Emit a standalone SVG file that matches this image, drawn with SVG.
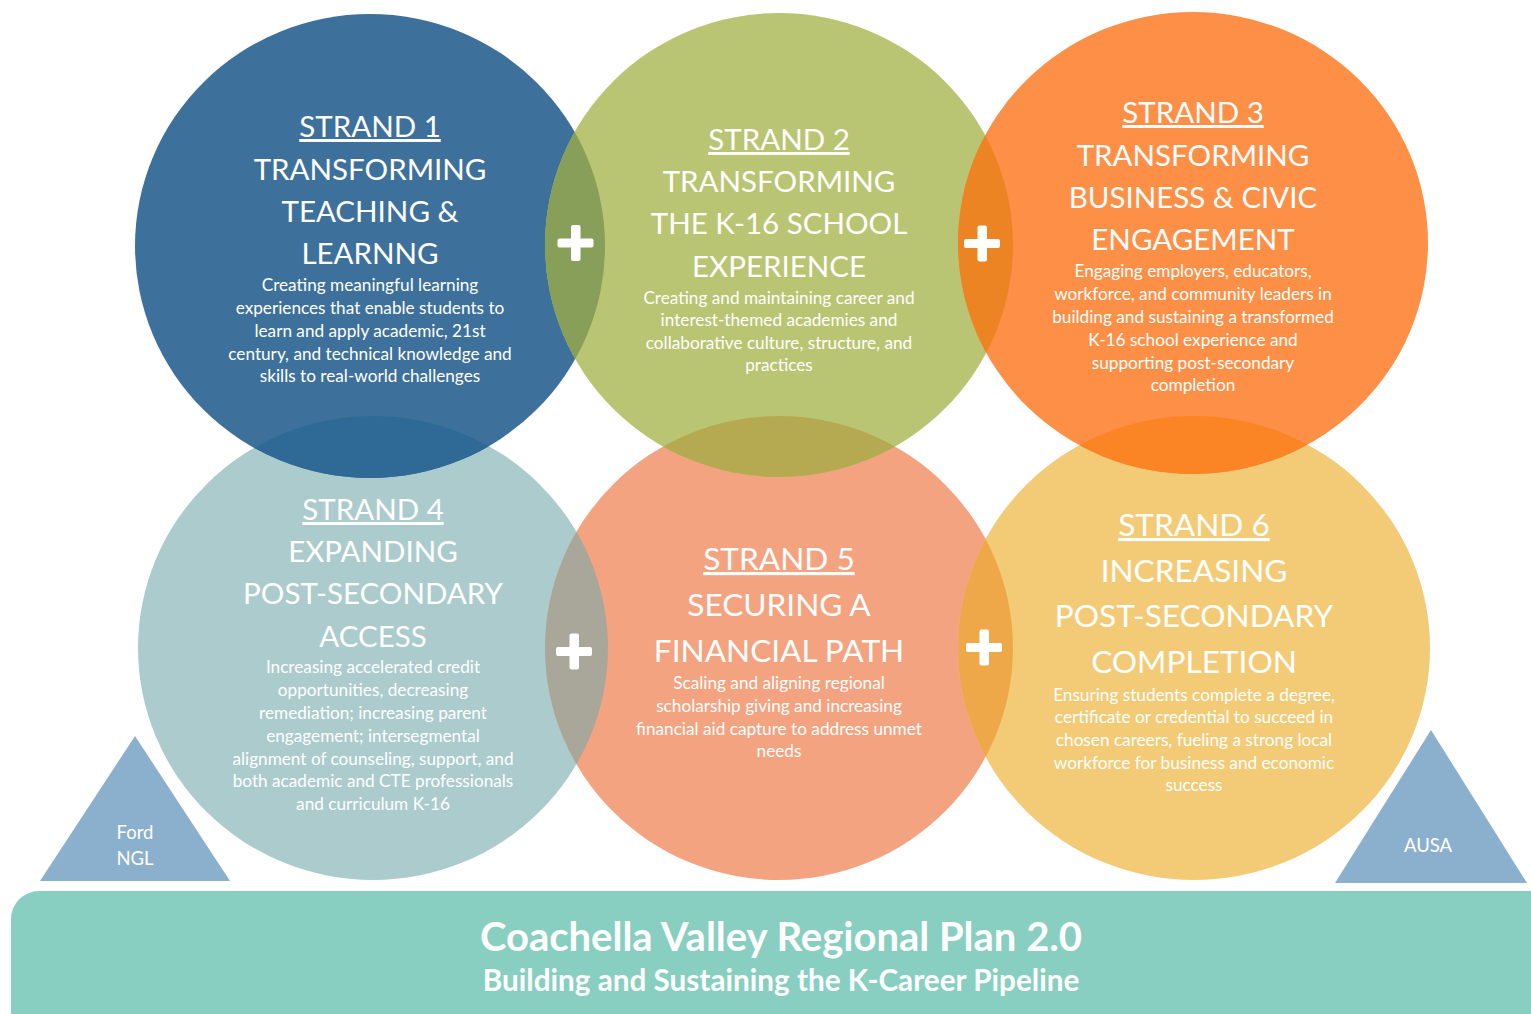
<svg xmlns="http://www.w3.org/2000/svg" width="1531" height="1014" viewBox="0 0 1531 1014">
<style>
  .t { font-family: Lato, "Open Sans", sans-serif; fill: #ffffff; text-anchor: middle; }
  .h { font-size: 29.5px; }
  .h2 { font-size: 31.6px; }
  .u { text-decoration: underline; }
  .b { font-size: 17.2px; }
  .plus { fill: #ffffff; }
</style>
<defs>
  <clipPath id="k1"><ellipse cx="370" cy="246" rx="235" ry="232"/></clipPath>
  <clipPath id="k2"><ellipse cx="779" cy="245" rx="234" ry="232"/></clipPath>
  <clipPath id="k3"><ellipse cx="1193" cy="243" rx="235" ry="231"/></clipPath>
  <clipPath id="k4"><ellipse cx="373" cy="648" rx="235" ry="232"/></clipPath>
  <clipPath id="k5"><ellipse cx="779" cy="648" rx="234" ry="232"/></clipPath>
  <clipPath id="k6"><ellipse cx="1194" cy="648" rx="236" ry="232"/></clipPath>
</defs>
<rect width="1531" height="1014" fill="#ffffff"/>

<g id="banner">
  <rect x="11" y="891" width="1560" height="160" rx="28" fill="#88CFC1"/>
  <text class="t" x="781" y="951" font-size="40" font-weight="700">Coachella Valley Regional Plan 2.0</text>
  <text class="t" x="781" y="991" font-size="29.7" font-weight="700">Building and Sustaining the K-Career Pipeline</text>
</g>

<g id="ford-ngl">
  <polygon points="135,736 230,881 40,881" fill="#8BB0CE"/>
  <text class="t" x="135" y="839" font-size="18.5">Ford</text>
  <text class="t" x="135" y="865" font-size="18.5">NGL</text>
</g>
<g id="ausa">
  <polygon points="1431,730 1527,883 1335,883" fill="#8BB0CE"/>
  <text class="t" x="1428" y="852" font-size="18.5">AUSA</text>
</g>

<g id="circles">
  <ellipse id="c4" cx="373" cy="648" rx="235" ry="232" fill="#ABCBCD"/>
  <ellipse id="c5" cx="779" cy="648" rx="234" ry="232" fill="#F4A380"/>
  <ellipse id="c6" cx="1194" cy="648" rx="236" ry="232" fill="#F3CB77"/>
  <ellipse id="c1" cx="370" cy="246" rx="235" ry="232" fill="#3D719C"/>
  <ellipse id="c2" cx="779" cy="245" rx="234" ry="232" fill="#B9C572"/>
  <ellipse id="c3" cx="1193" cy="243" rx="235" ry="231" fill="#FE8F47"/>
</g>
<g id="overlaps">
  <ellipse cx="779" cy="245" rx="234" ry="232" fill="#879F58" clip-path="url(#k1)"/>
  <ellipse cx="1193" cy="243" rx="235" ry="231" fill="#EC8424" clip-path="url(#k2)"/>
  <ellipse cx="779" cy="648" rx="234" ry="232" fill="#A8A79A" clip-path="url(#k4)"/>
  <ellipse cx="1194" cy="648" rx="236" ry="232" fill="#EEA84A" clip-path="url(#k5)"/>
  <ellipse cx="370" cy="246" rx="235" ry="232" fill="#2F6A96" clip-path="url(#k4)"/>
  <ellipse cx="779" cy="245" rx="234" ry="232" fill="#B5AA52" clip-path="url(#k5)"/>
  <ellipse cx="1193" cy="243" rx="235" ry="231" fill="#FB8424" clip-path="url(#k6)"/>
</g>

<g id="connectors">
  <g class="plus">
    <rect x="557.5" y="238.5" width="36" height="9" rx="2"/>
    <rect x="571" y="225" width="9.5" height="36" rx="2"/>
  </g>
  <g class="plus">
    <rect x="964" y="239" width="36" height="9" rx="2"/>
    <rect x="977.5" y="225.5" width="9.5" height="36" rx="2"/>
  </g>
  <g class="plus">
    <rect x="556" y="647" width="36" height="9" rx="2"/>
    <rect x="569.5" y="633.5" width="9.5" height="36" rx="2"/>
  </g>
  <g class="plus">
    <rect x="966" y="643" width="36" height="9" rx="2"/>
    <rect x="979.5" y="629.5" width="9.5" height="36" rx="2"/>
  </g>
</g>

<g id="strand1">
  <text class="t h u" x="370" y="137">STRAND 1</text>
  <text class="t h" x="370" y="180">TRANSFORMING</text>
  <text class="t h" x="370" y="222">TEACHING &amp;</text>
  <text class="t h" x="370" y="264">LEARNNG</text>
  <text class="t b" x="370" y="291">Creating meaningful learning</text>
  <text class="t b" x="370" y="314">experiences that enable students to</text>
  <text class="t b" x="370" y="337">learn and apply academic, 21st</text>
  <text class="t b" x="370" y="360">century, and technical knowledge and</text>
  <text class="t b" x="370" y="382">skills to real-world challenges</text>
</g>

<g id="strand2">
  <text class="t h u" x="779" y="150">STRAND 2</text>
  <text class="t h" x="779" y="192">TRANSFORMING</text>
  <text class="t h" x="779" y="234">THE K-16 SCHOOL</text>
  <text class="t h" x="779" y="277">EXPERIENCE</text>
  <text class="t b" x="779" y="304">Creating and maintaining career and</text>
  <text class="t b" x="779" y="326">interest-themed academies and</text>
  <text class="t b" x="779" y="349">collaborative culture, structure, and</text>
  <text class="t b" x="779" y="371">practices</text>
</g>

<g id="strand3">
  <text class="t h u" x="1193" y="123">STRAND 3</text>
  <text class="t h" x="1193" y="166">TRANSFORMING</text>
  <text class="t h" x="1193" y="208">BUSINESS &amp; CIVIC</text>
  <text class="t h" x="1193" y="250">ENGAGEMENT</text>
  <text class="t b" x="1193" y="277">Engaging employers, educators,</text>
  <text class="t b" x="1193" y="300">workforce, and community leaders in</text>
  <text class="t b" x="1193" y="323">building and sustaining a transformed</text>
  <text class="t b" x="1193" y="346">K-16 school experience and</text>
  <text class="t b" x="1193" y="369">supporting post-secondary</text>
  <text class="t b" x="1193" y="391">completion</text>
</g>

<g id="strand4">
  <text class="t h u" x="373" y="520">STRAND 4</text>
  <text class="t h" x="373" y="562">EXPANDING</text>
  <text class="t h" x="373" y="604">POST-SECONDARY</text>
  <text class="t h" x="373" y="647">ACCESS</text>
  <text class="t b" x="373" y="673">Increasing accelerated credit</text>
  <text class="t b" x="373" y="696">opportunities, decreasing</text>
  <text class="t b" x="373" y="719">remediation; increasing parent</text>
  <text class="t b" x="373" y="742">engagement;  intersegmental</text>
  <text class="t b" x="373" y="765">alignment of counseling, support, and</text>
  <text class="t b" x="373" y="787">both academic and CTE professionals</text>
  <text class="t b" x="373" y="810">and curriculum K-16</text>
</g>

<g id="strand5">
  <text class="t h2 u" x="779" y="570">STRAND 5</text>
  <text class="t h2" x="779" y="616">SECURING A</text>
  <text class="t h2" x="779" y="662">FINANCIAL PATH</text>
  <text class="t b" x="779" y="689">Scaling and aligning regional</text>
  <text class="t b" x="779" y="712">scholarship giving and increasing</text>
  <text class="t b" x="779" y="735">financial aid capture to address unmet</text>
  <text class="t b" x="779" y="757">needs</text>
</g>

<g id="strand6">
  <text class="t h2 u" x="1194" y="536">STRAND 6</text>
  <text class="t h2" x="1194" y="582">INCREASING</text>
  <text class="t h2" x="1194" y="627">POST-SECONDARY</text>
  <text class="t h2" x="1194" y="673">COMPLETION</text>
  <text class="t b" x="1194" y="701">Ensuring students complete a degree,</text>
  <text class="t b" x="1194" y="723">certificate or credential to succeed in</text>
  <text class="t b" x="1194" y="746">chosen careers, fueling a strong local</text>
  <text class="t b" x="1194" y="769">workforce for business and economic</text>
  <text class="t b" x="1194" y="791">success</text>
</g>
</svg>
